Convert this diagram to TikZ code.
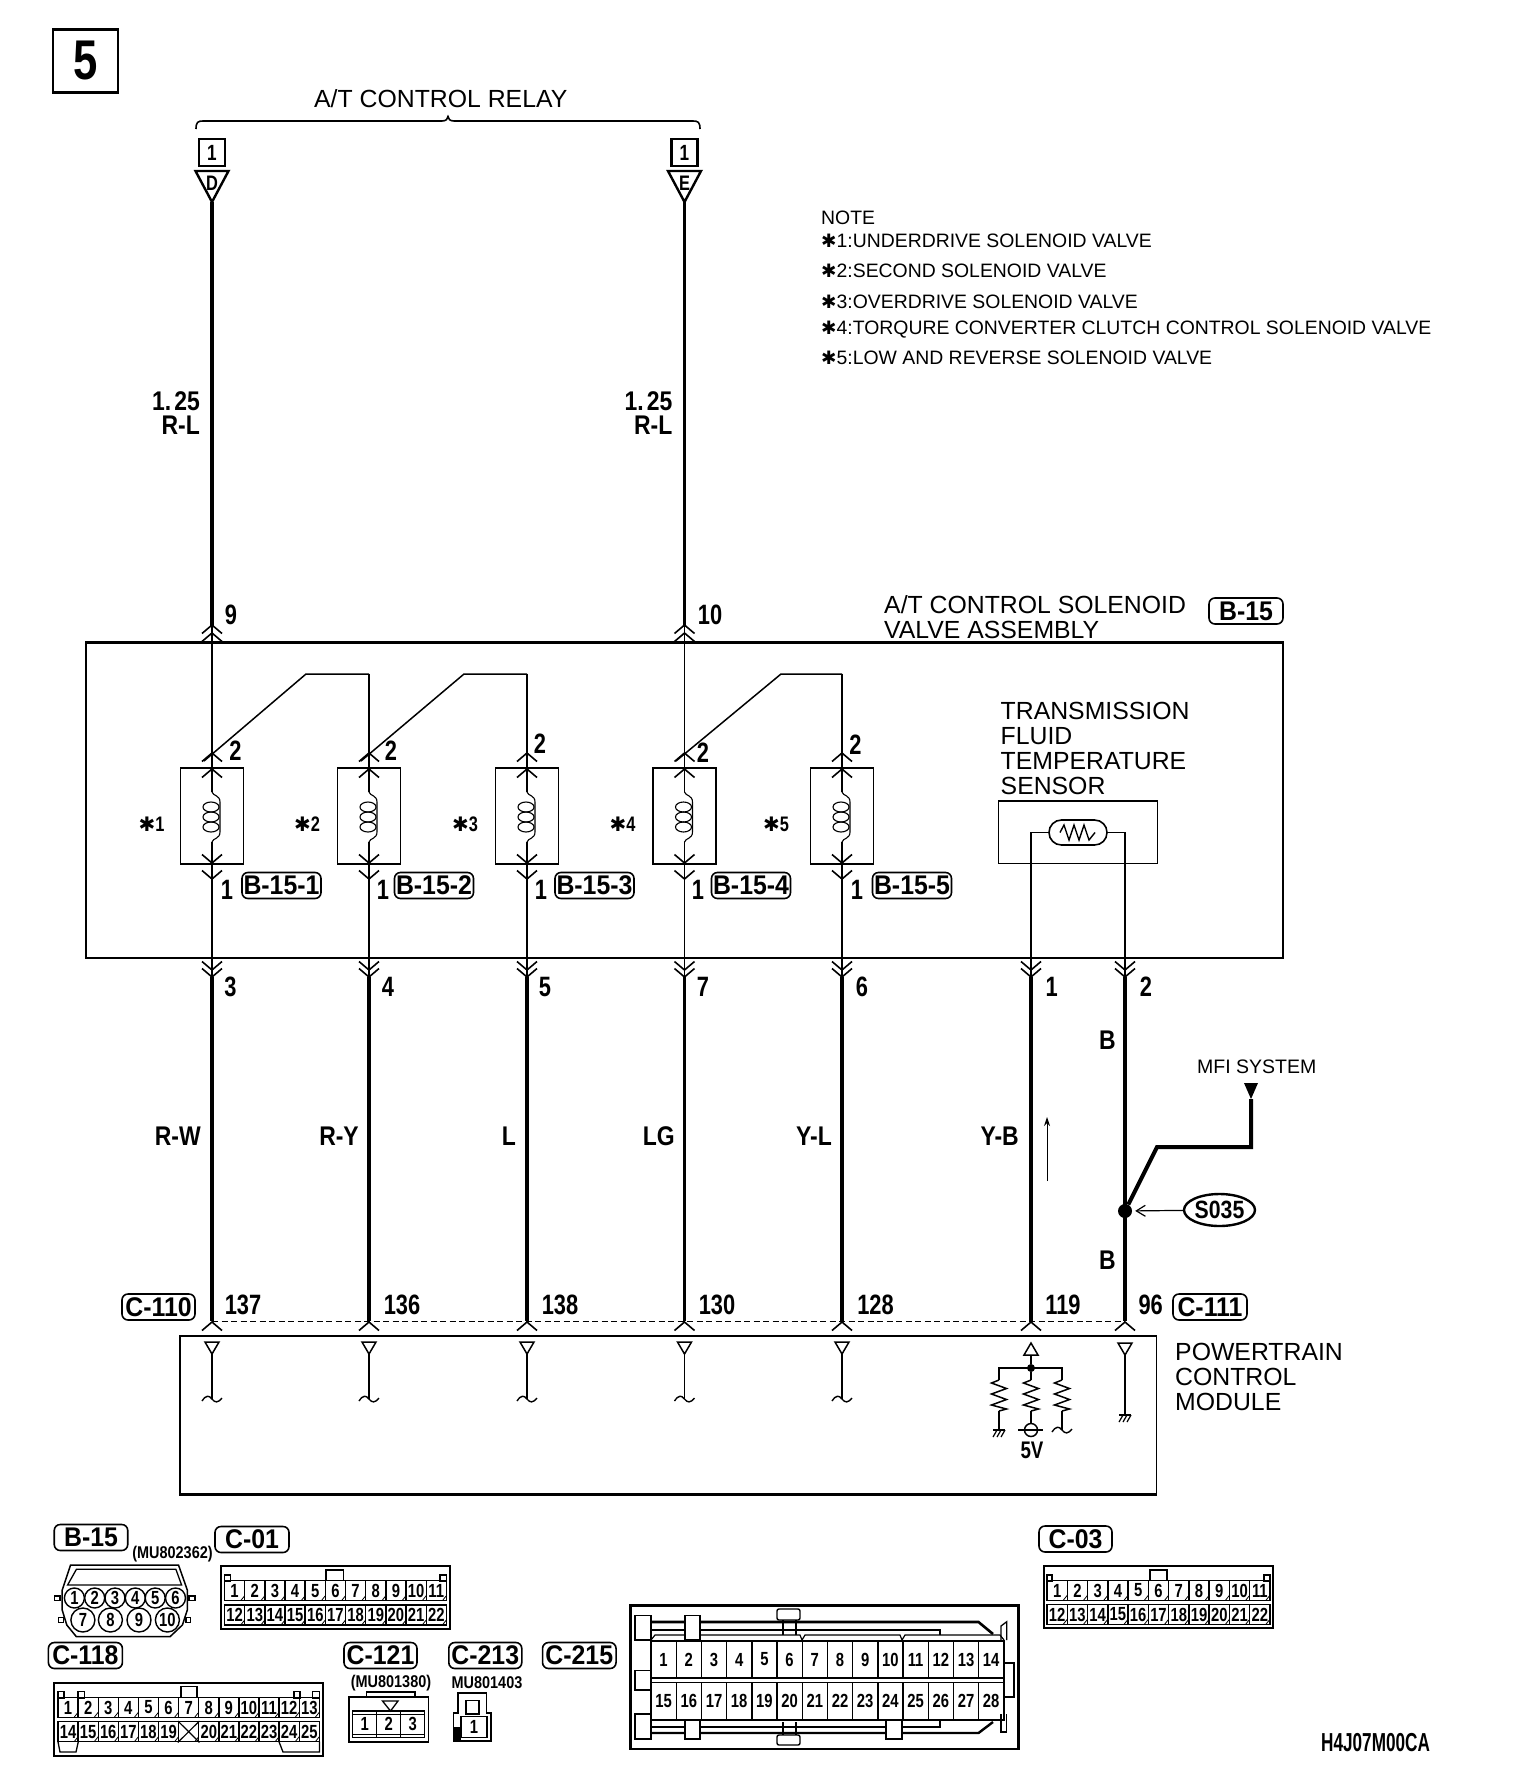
\documentclass[tikz,border=0pt]{standalone}
\usepackage{fontspec}
\setmainfont{Liberation Sans}
\newfontfamily\wirefont[FakeStretch=0.78]{Liberation Sans}
\newfontfamily\colfont[FakeStretch=0.85]{Liberation Sans}
\newfontfamily\tagfont[FakeStretch=0.92]{Liberation Sans}
\newfontfamily\codefont[FakeStretch=0.66]{Liberation Sans}
\newfontfamily\starfont[Scale=0.95]{DejaVu Sans}
\usetikzlibrary{arrows.meta,shapes.geometric}
\newcommand{\nstar}{{\starfont ✱}}
% one row of connector cells: name, left x, centre y, cell width, cell height, labels
\newcommand{\cells}[7][]{%
  \foreach \lab [count=\i] in {#7}{
    \node[pincell,#1,minimum width=#5pt,minimum height=#6pt] (#2\i) at ({#3+(\i-.5)*#5},#4) {\lab};
  }%
}
\tikzset{
  plaintext/.style={font=\fontsize{24.8}{25}\selectfont,inner sep=0,anchor=west,align=left},
  notetext/.style={font=\fontsize{19.4}{19}\selectfont,inner sep=0,anchor=west},
  pinlabel/.style={font=\wirefont\bfseries\fontsize{28}{28}\selectfont,inner sep=0},
  wirecol/.style={font=\colfont\bfseries\fontsize{27}{27}\selectfont,inner sep=0,anchor=east},
  tagbox/.style={draw,line width=1.6,rounded corners=6pt,inner sep=0,minimum height=26pt,
    font=\tagfont\bfseries\fontsize{27}{27}\selectfont},
  partno/.style={font=\colfont\bfseries\fontsize{17}{17}\selectfont,inner sep=0},
  pincell/.style={draw,line width=1.4,inner sep=0,font=\wirefont\bfseries\fontsize{19}{19}\selectfont},
  ticked/.style={path picture={\draw[line width=.8] (path picture bounding box.south east) ++(-4,0) -- ++(4,-5);}},
  heavywire/.style={line width=3.6},
  lightwire/.style={line width=1.9},
  chev/.style={line width=1.6},
  chevup/.pic={\draw (-10,8.5) -- (0,0) -- (10,8.5);},
  chevdown/.pic={\draw (-10,-8.5) -- (0,0) -- (10,-8.5);},
  coilpic/.pic={
    \draw (0,0) .. controls (1,4) and (8,3) .. (8,10) -- (8,40) .. controls (8,47) and (1,46) .. (0,50);
    \foreach \yy in {15,25,35} \draw (-1,\yy) ellipse (8 and 5);
  },
  zigzag/.pic={\draw (0,0) -- (-7.5,3) -- (7.5,8.5) -- (-7.5,14) -- (7.5,19.5) -- (-7.5,25) -- (7.5,29) -- (0,31);},
  groundpic/.pic={
    \draw (-6,0) -- (6,0);
    \foreach \dx in {-4,0,4} \draw (\dx+2,0) -- (\dx-2,7);
  },
  wavepic/.pic={\draw (-10,2) .. controls (-6,-4) and (-3,-4) .. (0,0) .. controls (3,4) and (6,4) .. (10,-1);},
}
\begin{document}
\begin{tikzpicture}[x=1pt,y=-1pt]
\path[use as bounding box,fill=white] (0,0) rectangle (1520,1788);

\node[draw,line width=2.6,minimum width=65pt,minimum height=63pt,inner sep=0,
  font=\wirefont\bfseries\fontsize{56}{56}\selectfont] (stepno) at (85.5,61) {5};

% relay
\node[plaintext] (relaytxt) at (314,99) {A/T CONTROL RELAY};
\draw[line width=1.6] (196,129) .. controls (196,122) and (198,121) .. (203,121) -- (442,121)
  .. controls (446,121) and (448,119) .. (448,116.5) .. controls (448,119) and (450,121) .. (454,121)
  -- (693,121) .. controls (698,121) and (700,122) .. (700,129);
\foreach \nm/\xx/\lab/\gauge in {D/212/D/200,E/684.5/E/672.5}{
  \node[draw,line width=2.4,minimum width=26pt,minimum height=27pt,inner sep=0,
    font=\wirefont\bfseries\fontsize{22}{22}\selectfont] (rel\nm) at (\xx,152.5) {1};
  \draw[line width=2.4] (\xx-16.5,171) -- (\xx+16.5,171) -- (\xx,202) -- cycle;
  \node[inner sep=0,font=\wirefont\bfseries\fontsize{21}{21}\selectfont] (term\nm) at (\xx,183) {\lab};
  \coordinate (top\nm) at (\xx,202);
  \coordinate (in\nm) at (\xx,627);
  \draw[heavywire] (top\nm) -- (in\nm);
  \node[wirecol] (gauge\nm) at (\gauge,401) {1.\kern3pt 25};
  \node[wirecol] (col\nm) at (\gauge,425) {R-L};
  \pic[chev] at (\xx,625) {chevup};
  \pic[chev] at (\xx,633) {chevup};
}
\node[pinlabel] (pinnine) at (231,615) {9};
\node[pinlabel] (pinten) at (710,615) {10};

% note
\node[notetext] (notehead) at (821,218) {NOTE};
\node[notetext] (noteone) at (821,241) {\nstar 1:UNDERDRIVE SOLENOID VALVE};
\node[notetext] (notetwo) at (821,271) {\nstar 2:SECOND SOLENOID VALVE};
\node[notetext] (notethree) at (821,301.5) {\nstar 3:OVERDRIVE SOLENOID VALVE};
\node[notetext] (notefour) at (821,329.5) {\nstar 4:TORQURE CONVERTER CLUTCH CONTROL SOLENOID VALVE};
\node[notetext] (notefive) at (821,358) {\nstar 5:LOW AND REVERSE SOLENOID VALVE};

% solenoid valve assembly
\node[plaintext] (valvetxt) at (884,617.5) {A/T CONTROL SOLENOID\\VALVE ASSEMBLY};
\node[tagbox,minimum width=74pt] (tagvalve) at (1246,611) {B-15};
\node[draw,line width=1.5,minimum width=1197pt,minimum height=315pt,inner sep=0] (valvebox) at (684.5,800.5) {};
\draw[line width=2.4] (valvebox.north west) -- (valvebox.north east);

\foreach \nm/\xx/\lw/\tagtxt/\tagx/\starx/\starn/\twox/\twoy/\onex in {
  A/212/1.9/B-15-1/281.5/151.5/1/235.5/751/227,
  B/369/1.9/B-15-2/434/307/2/391/751/383,
  C/527/1.9/B-15-3/594.5/465/3/540/744/541,
  D/684.5/1/B-15-4/751/622.5/4/703/753/698,
  E/842/1.9/B-15-5/912/776/5/855.5/745/857}{
  \node[draw,line width=1.8,minimum width=63pt,minimum height=96pt,inner sep=0] (coil\nm) at (\xx,816) {};
  \coordinate (coiltop\nm) at (\xx,792);
  \coordinate (coilbot\nm) at (\xx,842);
  \coordinate (out\nm) at (\xx,977);
  \draw[line width=\lw] (coilbot\nm) -- (out\nm);
  \pic[line width=1.1] at (\xx,792) {coilpic};
  \pic[chev] at (\xx,753) {chevup};
  \pic[chev] at (\xx,769) {chevup};
  \pic[chev] at (\xx,863) {chevdown};
  \pic[chev] at (\xx,879) {chevdown};
  \node[pinlabel] (two\nm) at (\twox,\twoy) {2};
  \node[pinlabel] (one\nm) at (\onex,890) {1};
  \node[tagbox,minimum width=79pt] (tag\nm) at (\tagx,885.5) {\tagtxt};
  \node[inner sep=0,font=\wirefont\bfseries\fontsize{21}{21}\selectfont] (star\nm) at (\starx,824) {\nstar\starn};
}
% jumpers between the coils
\coordinate (footA) at (204,761);
\coordinate (footB) at (361,761);
\coordinate (footC) at (676,761);
\coordinate (jumpA) at (306,674);
\coordinate (jumpB) at (464,674);
\coordinate (jumpC) at (781,674);
\coordinate (cornerB) at (369,674);
\coordinate (cornerC) at (527,674);
\coordinate (cornerE) at (842,674);
\draw[lightwire] (inD) -- (coiltopA);
\draw[line width=1] (inE) -- (coiltopD);
\draw[line width=1.5] (footA) -- (jumpA) -- (cornerB);
\draw[line width=1.5] (footB) -- (jumpB) -- (cornerC);
\draw[line width=1.5] (footC) -- (jumpC) -- (cornerE);
\draw[lightwire] (cornerB) -- (coiltopB);
\draw[lightwire] (cornerC) -- (coiltopC);
\draw[lightwire] (cornerE) -- (coiltopE);

% temperature sensor
\node[plaintext] (sensortxt) at (1000.5,748.5) {TRANSMISSION\\FLUID\\TEMPERATURE\\SENSOR};
\node[draw,line width=1.5,minimum width=159pt,minimum height=62.5pt,inner sep=0] (sensorbox) at (1078,832) {};
\node[draw,line width=1.6,rounded corners=12.4pt,minimum width=58pt,minimum height=25pt,inner sep=0] (thermistor) at (1078,832.5) {};
\draw[line width=1.4] (1060,832.5) -- (1064,825) -- (1069,840) -- (1074,825) -- (1079,840) -- (1084,825) -- (1089,840) -- (1095,832.5);
\coordinate (bendF) at (1031,832.5);
\coordinate (bendG) at (1125,832.5);
\coordinate (outF) at (1031,977);
\coordinate (outG) at (1125,977);
\draw[lightwire] (thermistor.west) -- (bendF) -- (outF);
\draw[lightwire] (thermistor.east) -- (bendG) -- (outG);

% harness down to the control module
\foreach \nm/\xx/\botn/\botx/\cnum/\cnumx in {
  A/212/3/230.5/137/243, B/369/4/388/136/402, C/527/5/545/138/560, D/684.5/7/703/130/717,
  E/842/6/862/128/875.5, F/1031/1/1051.6/119/1063, G/1125/2/1146/96/1150.7}{
  \coordinate (ecu\nm) at (\xx,1321);
  \draw[heavywire] (out\nm) -- (ecu\nm);
  \node[pinlabel] (bot\nm) at (\botx,987) {\botn};
  \node[pinlabel] (cnum\nm) at (\cnumx,1305) {\cnum};
  \pic[chev] at (\xx,1322) {chevup};
  \pic[chev] at (\xx,970) {chevdown};
  \pic[chev] at (\xx,977) {chevdown};
}
\foreach \nm/\endx/\txt in {A/201/R-W,B/359/R-Y,C/516/L,D/675/LG,E/832/Y-L,F/1019/Y-B}{
  \node[wirecol] (wcol\nm) at (\endx,1136) {\txt};
}
\node[wirecol] (wcolup) at (1116,1040) {B};
\node[wirecol] (wcoldown) at (1116,1260) {B};
\coordinate (flowS) at (1047,1181);
\coordinate (flowE) at (1047,1117);
\draw[line width=1,-{Stealth[length=9pt,width=6pt]}] (flowS) -- (flowE);

% splice and MFI branch
\node[circle,fill,minimum size=14pt,inner sep=0] (splice) at (1125,1211) {};
\node[draw,ellipse,line width=2.4,minimum width=71pt,minimum height=32pt,inner sep=0,
  font=\colfont\bfseries\fontsize{25}{25}\selectfont] (sprobe) at (1219.5,1210) {S035};
\draw[line width=1.2,shorten >=3pt,-{Straight Barb[length=9pt,width=11pt]}] (sprobe) -- (splice);
\node[inner sep=0,anchor=west,font=\fontsize{19.5}{20}\selectfont] (mfitxt) at (1197,1067) {MFI SYSTEM};
\fill (1244,1083) -- (1258,1083) -- (1251,1099) -- cycle;
\coordinate (mfiend) at (1251,1099);
\coordinate (mfibendA) at (1251,1147);
\coordinate (mfibendB) at (1157,1147);
\draw[line width=4] (mfiend) -- (mfibendA) -- (mfibendB) -- (splice);

% control module
\node[tagbox,minimum width=73pt] (tagctl) at (158.5,1307) {C-110};
\node[tagbox,minimum width=74pt] (tagcmid) at (1210,1307) {C-111};
\draw[line width=1,dash pattern=on 6pt off 3.5pt] (ecuA) -- (ecuG);
\node[draw,line width=1.4,minimum width=976.7pt,minimum height=158pt,inner sep=0] (pcmbox) at (668.35,1415) {};
\draw[line width=2.4] (pcmbox.south west) -- (pcmbox.south east);
\node[plaintext] (pcmtxt) at (1175,1377) {POWERTRAIN\\CONTROL\\MODULE};
\foreach \nm/\xx/\lw in {A/212/1.7,B/369/1.7,C/527/1.7,D/684.5/1,E/842/1.7}{
  \draw[line width=1.5] (\xx-7,1342) -- (\xx+7,1342) -- (\xx,1354) -- cycle;
  \coordinate (ecuin\nm) at (\xx,1354);
  \coordinate (ecuend\nm) at (\xx,1399);
  \draw[line width=\lw] (ecuin\nm) -- (ecuend\nm);
  \pic[line width=1.4] at (\xx,1399) {wavepic};
}
\draw[line width=1.5] (1024,1355) -- (1038,1355) -- (1031,1343) -- cycle;
\node[circle,fill,minimum size=8pt,inner sep=0] (junction) at (1031,1368) {};
\coordinate (feedtop) at (1031,1355);
\coordinate (resleft) at (999,1368);
\coordinate (resright) at (1062,1368);
\draw[line width=1.7] (feedtop) -- (junction);
\draw[line width=1.7] (999,1380) -- (resleft) -- (resright) -- (1062,1380);
\draw[line width=1.7] (junction) -- (1031,1380);
\foreach \xx in {999,1031,1062}{
  \pic[line width=1.5] at (\xx,1380) {zigzag};
  \draw[line width=1.5] (\xx,1411) -- (\xx,1430);
}
\pic[line width=1.2] at (999,1430) {groundpic};
\node[circle,draw,fill=white,line width=1.5,minimum size=13pt,inner sep=0] (fivevolt) at (1031,1430) {};
\draw[line width=1.5] (1018,1430) -- (1043,1430);
\node[inner sep=0,font=\wirefont\bfseries\fontsize{24}{24}\selectfont] (fivetxt) at (1032,1450) {5V};
\pic[line width=1.4] at (1062,1430) {wavepic};
\draw[line width=1.5] (1118,1343) -- (1132,1343) -- (1125,1355) -- cycle;
\coordinate (gndtop) at (1125,1355);
\coordinate (gndend) at (1125,1415);
\draw[line width=1.7] (gndtop) -- (gndend);
\pic[line width=1.2] at (1125,1415) {groundpic};

% connector B-15
\node[tagbox,minimum width=73.5pt] (tagbf) at (91,1537.5) {B-15};
\node[partno] (partbf) at (172.5,1554) {(MU802362)};
\draw[line width=1.5] (70.6,1565) -- (178.5,1565) -- (187.3,1590) -- (187.3,1610) -- (182.4,1625) -- (170,1636.7)
  -- (76.4,1636.7) -- (66.8,1625) -- (62.2,1610) -- (62.2,1590) -- cycle;
\draw[line width=1.3] (67.6,1585) -- (76.4,1569.3) -- (175.9,1569.3) -- (181.6,1585) -- cycle;
\draw[line width=1.2] (54.5,1596) rectangle (60,1600.7) (58.4,1617.7) rectangle (63.7,1622.7)
  (189,1596) rectangle (195,1600.7) (186,1617.7) rectangle (190.4,1622.7);
\foreach \lab/\xx in {1/74.4,2/94.7,3/115,4/135.3,5/155.2,6/175.5}{
  \node[pincell,circle,minimum size=20pt,fill=white] (bfr\lab) at (\xx,1598) {\lab};
}
\foreach \lab/\xx in {7/82.9,8/110.4,9/139,10/167.4}{
  \node[pincell,circle,minimum size=24pt,fill=white] (bfs\lab) at (\xx,1620) {\lab};
}

% connector C-01
\node[tagbox,minimum width=74pt] (tagcone) at (252,1539.5) {C-01};
\node[draw,line width=1.8,minimum width=229.4pt,minimum height=63pt,inner sep=0] (cofr) at (335.3,1597.5) {};
\cells[ticked]{coa}{224.5}{1590.7}{20.17}{20}{1,2,3,4,5,6,7,8,9,10,11}
\cells[ticked]{cob}{224.5}{1615}{20.17}{20}{12,13,14,15,16,17,18,19,20,21,22}
\draw[line width=1.4] (326,1580.7) -- (326,1570) -- (343.5,1570) -- (343.5,1580.7);
\draw[line width=1.2] (224.5,1581) rectangle (230.5,1575) (440,1581) rectangle (446.4,1575);

% connector C-03
\node[tagbox,minimum width=73pt] (tagcthree) at (1075.5,1539) {C-03};
\node[draw,line width=1.8,minimum width=229pt,minimum height=62.3pt,inner sep=0] (cthfr) at (1158.5,1597) {};
\cells[ticked]{cta}{1047}{1590.5}{20.27}{19.5}{1,2,3,4,5,6,7,8,9,10,11}
\cells[ticked]{ctb}{1047}{1614.5}{20.27}{19.5}{12,13,14,15,16,17,18,19,20,21,22}
\draw[line width=1.4] (1150,1581) -- (1150,1570) -- (1167,1570) -- (1167,1581);
\draw[line width=1.2] (1047,1581) rectangle (1052,1575) (1264,1581) rectangle (1270,1575);

% connector C-118
\node[tagbox,minimum width=74pt] (tagcoe) at (85.4,1655.5) {C-118};
\node[draw,line width=1.8,minimum width=269pt,minimum height=73.3pt,inner sep=0] (coefr) at (188.5,1719.3) {};
\cells[ticked]{cea}{58}{1707.5}{20.1}{19.5}{1,2,3,4,5,6,7,8,9,10,11,12,13}
\cells[ticked]{ceb}{58}{1731.7}{20.1}{20}{14,15,16,17,18,19,{},20,21,22,23,24,25}
\draw[line width=1.2] (ceb7.north west) -- (ceb7.south east) (ceb7.north east) -- (ceb7.south west);
\draw[line width=1.4] (181,1698) -- (181,1686.7) -- (197,1686.7) -- (197,1698);
\draw[line width=1.2] (58,1698) rectangle (64,1691.7) (78,1698) rectangle (84.5,1691.7)
  (294,1698) rectangle (300,1691.7) (312.5,1698) rectangle (319.4,1691.7);
\draw[line width=1.3] (58,1741.7) -- (60,1752) -- (76,1752) -- (78.3,1741.7);
\draw[line width=1.3] (279,1741.7) -- (283,1752) -- (319.4,1752) -- (319.4,1741.7);

% connector C-121
\node[tagbox,minimum width=73pt] (tagcot) at (380.5,1655.5) {C-121};
\node[partno] (partcot) at (391,1682.7) {(MU801380)};
\node[draw,line width=1.8,minimum width=79.4pt,minimum height=45.3pt,inner sep=0] (cotfr) at (388.7,1719.3) {};
\draw[line width=1.2] (366.4,1696.7) -- (366.4,1692) -- (415,1692) -- (415,1696.7);
\draw[line width=1.3] (382.5,1701) -- (398,1701) -- (390.5,1711) -- cycle;
\cells{cot}{352.7}{1724.3}{24}{26.7}{1,2,3}
\draw[line width=1] (352.7,1714.5) -- (424.6,1714.5) (352.7,1734.5) -- (424.6,1734.5);

% connector C-213
\node[tagbox,minimum width=73pt] (tagcts) at (485.3,1655.5) {C-213};
\node[partno] (partcts) at (487,1682.7) {MU801403};
\draw[line width=1.6] (458,1713) -- (458,1692.7) -- (486.6,1692.7) -- (486.6,1713) -- (490.8,1713) -- (490.8,1741)
  -- (453.3,1741) -- (453.3,1713) -- cycle;
\draw[line width=1.3] (466,1700.7) rectangle (479,1714);
\node[pincell,minimum width=26pt,minimum height=21pt] (ctspin) at (474,1727) {1};
\fill (453.3,1727) rectangle (461,1741);

% connector C-215
\node[tagbox,minimum width=73.5pt] (tagcfs) at (579.3,1655.5) {C-215};
\node[draw,line width=2.4,minimum width=388pt,minimum height=143.3pt,inner sep=0] (cfsfr) at (824.5,1677.3) {};
\draw[line width=2.6] (651,1622) -- (978.5,1622) -- (993,1634);
\draw[line width=1.2] (651,1630) -- (940,1630) -- (940,1635);
\draw[line width=1.2] (651,1640) -- (655,1635) -- (800,1635) -- (802,1640) -- (805,1635) -- (900,1635) -- (902,1640)
  -- (905,1635) -- (1000,1635) -- (1004,1640);
\draw[line width=1.2] (651,1727) -- (940,1727) -- (940,1720);
\draw[line width=2.4] (651,1733) -- (978.5,1733) -- (993,1722);
\foreach \ya/\yb in {1615.7/1640,1670.7/1690,1714/1739}{
  \draw[line width=1.5,fill=white] (635,\ya) rectangle (651,\yb);
}
\draw[line width=1.5,fill=white] (685,1615.7) rectangle (700,1640);
\draw[line width=1.5,fill=white] (685,1720) rectangle (700,1739);
\draw[line width=1.5,fill=white] (886,1720) rectangle (902,1739);
\draw[line width=1.4] (783,1620) -- (783,1635) (796,1620) -- (796,1635) (783,1722) -- (783,1735) (796,1722) -- (796,1735);
\draw[line width=1.4,rounded corners=2pt] (777,1620) rectangle (800,1609);
\draw[line width=1.4,rounded corners=2pt] (777,1735) rectangle (800,1745);
\draw[line width=1.3] (1001,1640) -- (1001,1626) -- (1006.7,1621.7) -- (1006.7,1640);
\draw[line width=1.3] (1001,1714) -- (1001,1732) -- (1006.7,1732) -- (1006.7,1714);
\draw[line width=1.4] (1004,1663) rectangle (1014,1697);
\cells{cfa}{651}{1659.5}{25.2}{37}{1,2,3,4,5,6,7,8,9,10,11,12,13,14}
\cells{cfb}{651}{1701.3}{25.2}{37.3}{15,16,17,18,19,20,21,22,23,24,25,26,27,28}

\node[inner sep=0,anchor=west,font=\codefont\bfseries\fontsize{26}{26}\selectfont] (drawno) at (1321,1743) {H4J07M00CA};
\end{tikzpicture}
\end{document}
